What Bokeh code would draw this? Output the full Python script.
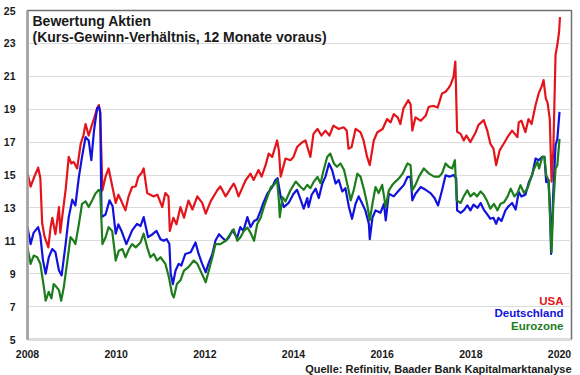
from bokeh.plotting import figure
from bokeh.models import Label, FixedTicker, Range1d, Title
from bokeh.embed import file_html
from bokeh.resources import INLINE

# ---------------- data (decimal year, forward P/E) ----------------
usa_t = [2008.00, 2008.07, 2008.14, 2008.24, 2008.29, 2008.33, 2008.38, 2008.47, 2008.52, 2008.56,
         2008.63, 2008.71, 2008.74, 2008.79, 2008.86, 2008.93, 2008.99, 2009.04, 2009.12, 2009.20,
         2009.26, 2009.31, 2009.38, 2009.46, 2009.51, 2009.57, 2009.61, 2009.64, 2009.69, 2009.76,
         2009.83, 2009.89, 2009.99, 2010.05, 2010.12, 2010.21, 2010.28, 2010.36, 2010.44, 2010.50,
         2010.57, 2010.62, 2010.70, 2010.77, 2010.84, 2010.93, 2011.04, 2011.11, 2011.18, 2011.21,
         2011.29, 2011.36, 2011.45, 2011.53, 2011.63, 2011.72, 2011.83, 2011.94, 2012.02, 2012.13,
         2012.28, 2012.35, 2012.47, 2012.56, 2012.65, 2012.69, 2012.76, 2012.92, 2013.03, 2013.10,
         2013.21, 2013.28, 2013.37, 2013.44, 2013.52, 2013.63, 2013.67, 2013.71, 2013.82, 2013.93,
         2014.00, 2014.08, 2014.20, 2014.27, 2014.38, 2014.45, 2014.54, 2014.63, 2014.72, 2014.81,
         2014.90, 2015.02, 2015.13, 2015.20, 2015.24, 2015.31, 2015.40, 2015.51, 2015.58, 2015.66,
         2015.72, 2015.81, 2015.89, 2016.01, 2016.11, 2016.19, 2016.26, 2016.35, 2016.41, 2016.48,
         2016.59, 2016.64, 2016.68, 2016.75, 2016.87, 2016.98, 2017.05, 2017.16, 2017.25, 2017.35,
         2017.43, 2017.50, 2017.54, 2017.61, 2017.65, 2017.69, 2017.77, 2017.84, 2017.90, 2017.99,
         2018.11, 2018.17, 2018.29, 2018.37, 2018.44, 2018.51, 2018.57, 2018.65, 2018.74, 2018.85,
         2018.93, 2019.05, 2019.08, 2019.14, 2019.23, 2019.30, 2019.37, 2019.46, 2019.53, 2019.60,
         2019.64, 2019.69, 2019.73, 2019.78, 2019.82, 2019.86, 2019.91, 2019.95, 2019.99, 2020.01]
usa_pe = [15.1, 14.3, 14.8, 15.45, 14.8, 12.1, 11.3, 10.6, 11.8, 12.4,
          11.4, 13.05, 11.5, 12.6, 14.1, 16.1, 15.7, 15.8, 15.4, 16.9,
          17.4, 18.1, 17.4, 18.1, 18.5, 19.05, 19.25, 18.8, 14.07, 14.9,
          15.4, 14.6, 13.3, 13.8, 13.4, 12.85, 13.7, 14.27, 14.3, 14.9,
          15.1, 15.4, 13.9, 13.8, 13.7, 13.8, 13.05, 13.9, 13.7, 11.6,
          12.4, 12.0, 13.05, 12.4, 13.45, 12.9, 13.7, 13.3, 12.65, 13.4,
          14.07, 14.3, 13.7, 14.1, 14.48, 14.27, 13.7, 14.68, 15.08, 14.7,
          15.3, 14.9, 15.6, 16.3, 16.1, 17.1, 16.5, 14.9, 16.0, 15.9,
          16.1, 16.7, 17.0, 17.1, 16.1, 17.5, 17.8, 17.4, 17.7, 17.4,
          18.0, 17.8, 17.9, 17.7, 16.6, 16.7, 17.8, 17.6, 17.1, 16.1,
          15.6, 17.1, 17.6, 17.8, 18.4, 18.2, 18.7, 18.5, 18.1, 19.05,
          19.55, 19.3, 17.7, 18.5, 18.3, 18.6, 19.15, 19.2, 19.1, 19.96,
          20.06, 20.3, 20.47, 20.98, 21.9, 17.63, 17.5, 17.1, 17.4, 17.0,
          17.6, 18.03, 18.34, 17.7, 16.9, 16.6, 15.6, 16.5, 16.9, 17.4,
          17.7, 17.3, 18.2, 18.3, 17.6, 18.4, 18.1, 19.25, 19.96, 20.4,
          20.77, 19.66, 19.4, 18.4, 14.6, 16.5, 22.3, 22.9, 23.7, 24.6]

de_t = [2008.00, 2008.07, 2008.14, 2008.24, 2008.29, 2008.35, 2008.41, 2008.48, 2008.56, 2008.63,
        2008.71, 2008.77, 2008.86, 2008.93, 2009.01, 2009.08, 2009.16, 2009.23, 2009.31, 2009.38,
        2009.44, 2009.50, 2009.57, 2009.61, 2009.64, 2009.67, 2009.76, 2009.85, 2009.92, 2009.99,
        2010.05, 2010.12, 2010.23, 2010.36, 2010.47, 2010.55, 2010.62, 2010.72, 2010.82, 2010.91,
        2011.00, 2011.07, 2011.14, 2011.20, 2011.23, 2011.28, 2011.34, 2011.41, 2011.47, 2011.56,
        2011.68, 2011.79, 2011.86, 2011.94, 2012.02, 2012.08, 2012.17, 2012.24, 2012.32, 2012.39,
        2012.47, 2012.54, 2012.62, 2012.73, 2012.80, 2012.87, 2012.96, 2013.03, 2013.11, 2013.18,
        2013.26, 2013.32, 2013.41, 2013.52, 2013.59, 2013.64, 2013.71, 2013.78, 2013.89, 2014.00,
        2014.08, 2014.16, 2014.23, 2014.31, 2014.34, 2014.41, 2014.50, 2014.57, 2014.65, 2014.72,
        2014.80, 2014.87, 2014.95, 2015.02, 2015.10, 2015.17, 2015.25, 2015.32, 2015.40, 2015.47,
        2015.55, 2015.62, 2015.70, 2015.72, 2015.78, 2015.85, 2015.96, 2016.04, 2016.08, 2016.15,
        2016.26, 2016.38, 2016.49, 2016.57, 2016.64, 2016.68, 2016.75, 2016.87, 2016.98, 2017.09,
        2017.18, 2017.26, 2017.35, 2017.43, 2017.52, 2017.61, 2017.67, 2017.69, 2017.77, 2017.84,
        2017.92, 2017.99, 2018.06, 2018.15, 2018.22, 2018.29, 2018.37, 2018.44, 2018.51, 2018.57,
        2018.62, 2018.69, 2018.78, 2018.85, 2018.93, 2019.01, 2019.08, 2019.14, 2019.23, 2019.31,
        2019.38, 2019.46, 2019.53, 2019.61, 2019.66, 2019.70, 2019.75, 2019.78, 2019.81, 2019.86,
        2019.91, 2019.95, 2020.00]
de_pe = [11.83, 10.8, 11.5, 11.83, 11.3, 9.8, 9.0, 10.0, 10.5, 10.3,
         9.19, 8.9, 10.8, 12.44, 13.5, 13.15, 14.9, 16.1, 17.3, 17.1,
         15.9, 17.7, 19.05, 19.15, 18.8, 12.44, 12.6, 13.46, 13.1, 11.43,
         12.0, 11.6, 10.8, 11.63, 12.03, 11.9, 12.44, 11.22, 11.4, 11.6,
         11.1, 11.0, 11.1, 10.8, 9.0, 8.37, 9.2, 9.6, 9.5, 10.2,
         10.3, 10.9, 10.2, 9.6, 9.09, 9.6, 10.2, 11.02, 11.4, 11.2,
         11.0, 11.2, 11.63, 11.2, 11.83, 11.6, 12.44, 11.83, 12.2, 12.3,
         12.85, 13.3, 13.86, 14.27, 14.68, 14.8, 13.7, 13.05, 13.3, 13.86,
         14.1, 13.5, 12.95, 13.6, 13.05, 13.8, 14.17, 13.6, 14.48, 14.9,
         15.7, 15.3, 14.48, 14.7, 14.0, 14.2, 13.05, 12.34, 13.25, 13.7,
         13.25, 12.85, 12.03, 11.1, 12.4, 12.85, 12.7, 13.25, 12.24, 13.86,
         13.7, 14.07, 14.4, 14.88, 14.9, 13.46, 13.86, 14.27, 14.1, 13.9,
         13.6, 13.15, 14.07, 14.98, 14.9, 15.0, 14.8, 12.85, 12.7, 12.85,
         13.15, 12.85, 13.2, 13.0, 13.3, 12.9, 12.6, 12.34, 12.4, 12.03,
         12.4, 12.2, 12.85, 13.1, 13.3, 12.9, 13.97, 13.7, 13.8, 14.57,
         14.98, 16.0, 15.9, 16.1, 16.1, 14.57, 14.7, 13.4, 10.2, 14.0,
         16.8, 17.2, 18.84]

ez_t = [2008.00, 2008.07, 2008.14, 2008.22, 2008.29, 2008.37, 2008.41, 2008.48, 2008.54, 2008.59,
        2008.65, 2008.71, 2008.76, 2008.82, 2008.90, 2008.97, 2009.04, 2009.08, 2009.16, 2009.23,
        2009.31, 2009.38, 2009.46, 2009.53, 2009.61, 2009.64, 2009.69, 2009.76, 2009.83, 2009.91,
        2009.99, 2010.06, 2010.14, 2010.21, 2010.29, 2010.36, 2010.44, 2010.55, 2010.62, 2010.70,
        2010.77, 2010.85, 2010.92, 2011.00, 2011.11, 2011.19, 2011.26, 2011.30, 2011.37, 2011.45,
        2011.53, 2011.63, 2011.75, 2011.83, 2011.90, 2012.02, 2012.09, 2012.17, 2012.24, 2012.35,
        2012.47, 2012.58, 2012.65, 2012.73, 2012.80, 2012.88, 2012.96, 2013.03, 2013.11, 2013.18,
        2013.26, 2013.33, 2013.41, 2013.49, 2013.56, 2013.63, 2013.67, 2013.69, 2013.75, 2013.82,
        2013.93, 2014.05, 2014.16, 2014.23, 2014.31, 2014.38, 2014.46, 2014.54, 2014.61, 2014.68,
        2014.76, 2014.83, 2014.91, 2014.98, 2015.06, 2015.14, 2015.21, 2015.29, 2015.36, 2015.44,
        2015.51, 2015.59, 2015.66, 2015.72, 2015.78, 2015.85, 2015.92, 2016.00, 2016.08, 2016.15,
        2016.23, 2016.30, 2016.38, 2016.46, 2016.57, 2016.64, 2016.68, 2016.75, 2016.83, 2016.94,
        2017.05, 2017.17, 2017.28, 2017.35, 2017.43, 2017.50, 2017.58, 2017.64, 2017.68, 2017.77,
        2017.84, 2017.92, 2017.99, 2018.07, 2018.14, 2018.22, 2018.29, 2018.37, 2018.44, 2018.52,
        2018.60, 2018.67, 2018.75, 2018.83, 2018.90, 2018.98, 2019.05, 2019.12, 2019.20, 2019.28,
        2019.35, 2019.43, 2019.50, 2019.54, 2019.61, 2019.66, 2019.70, 2019.75, 2019.80, 2019.82,
        2019.86, 2019.91, 2019.95, 2020.00]
ez_pe = [10.6, 9.6, 10.1, 10.0, 9.6, 8.17, 7.36, 7.9, 7.5, 8.37,
         8.2, 8.0, 7.36, 8.2, 9.8, 11.22, 11.0, 10.8, 12.03, 13.25,
         13.4, 13.05, 13.46, 13.86, 14.1, 14.0, 10.8, 11.2, 11.83, 11.6,
         9.8, 10.4, 10.5, 10.0, 10.5, 10.8, 10.6, 10.9, 11.43, 10.6,
         10.0, 10.2, 9.8, 10.0, 9.6, 8.78, 7.77, 7.56, 8.37, 8.6,
         9.19, 9.4, 9.8, 9.6, 9.2, 8.48, 9.19, 10.0, 10.8, 10.8,
         11.0, 11.43, 11.7, 11.0, 11.2, 11.6, 11.8, 11.5, 11.0, 12.0,
         12.4, 13.05, 13.66, 14.27, 14.4, 14.68, 13.46, 12.44, 13.66, 13.4,
         14.07, 14.6, 14.27, 14.1, 14.4, 14.2, 14.6, 14.88, 14.5, 15.3,
         16.1, 16.3, 15.7, 15.5, 15.7, 15.3, 14.48, 13.46, 14.1, 15.08,
         14.9, 14.1, 13.25, 12.24, 13.25, 14.27, 13.9, 14.4, 13.05, 14.07,
         14.4, 14.6, 14.8, 15.08, 15.7, 15.6, 14.07, 14.4, 14.9, 15.4,
         15.1, 14.9, 14.9, 15.1, 15.7, 15.5, 15.4, 15.9, 13.46, 13.3,
         13.7, 14.07, 13.7, 13.9, 13.7, 14.0, 13.8, 13.4, 12.95, 13.25,
         12.85, 13.25, 13.35, 13.7, 14.17, 13.7, 13.9, 14.38, 13.9, 14.2,
         14.78, 15.4, 15.8, 15.4, 16.1, 16.1, 14.98, 14.7, 11.5, 10.3,
         13.2, 15.4, 15.6, 17.2]

y_ticks = [5, 7, 9, 11, 13, 15, 17, 19, 21, 23, 25]
x_ticks = [2008, 2010, 2012, 2014, 2016, 2018, 2020]

title_lines = ["Bewertung Aktien", "(Kurs-Gewinn-Verhältnis, 12 Monate voraus)"]
series_names = ["USA", "Deutschland", "Eurozone"]
series_colors = ["#e4141b", "#1212dc", "#1d7d1d"]
source_text = "Quelle: Refinitiv, Baader Bank Kapitalmarktanalyse"

FONT = "Liberation Sans"

# ---------------- figure ----------------
p = figure(width=580, height=375, output_backend="svg", toolbar_location=None,
           x_range=Range1d(2008, 2020.27), y_range=Range1d(5, 25),
           min_border_left=27, min_border_right=9, min_border_top=10, min_border_bottom=36,
           background_fill_color="white", border_fill_color="white")

p.outline_line_color = "#6f6f6f"
p.outline_line_width = 1.5

p.xgrid.visible = False
p.ygrid.ticker = FixedTicker(ticks=y_ticks)
p.ygrid.grid_line_color = "#dcdcdc"
p.ygrid.grid_line_width = 1

for ax in (p.xaxis[0], p.yaxis[0]):
    ax.major_label_text_font = FONT
    ax.major_label_text_font_style = "bold"
    ax.major_label_text_font_size = "10.5px"
    ax.major_label_text_color = "#1a1a1a"
    ax.major_tick_line_color = None
    ax.minor_tick_line_color = None

p.yaxis.ticker = FixedTicker(ticks=y_ticks)
p.yaxis.major_label_standoff = 6
p.yaxis.axis_line_color = "#a0a0a0"
p.yaxis.axis_line_width = 2.5

p.xaxis.ticker = FixedTicker(ticks=x_ticks)
p.xaxis.major_label_standoff = 4
p.xaxis.axis_line_color = "#e0e0e0"
p.xaxis.axis_line_width = 1

# lines (USA, Deutschland, Eurozone)
for t, v, c in ((usa_t, usa_pe, series_colors[0]),
                (de_t, de_pe, series_colors[1]),
                (ez_t, ez_pe, series_colors[2])):
    p.line(t, v, line_color=c, line_width=2.2, line_join="round")

# title inside the plot
p.add_layout(Label(x=5, y=319, x_units="screen", y_units="screen", text=title_lines[0],
                   text_font=FONT, text_font_style="bold", text_font_size="14px",
                   text_baseline="middle", text_color="#1a1a1a"))
p.add_layout(Label(x=5, y=303, x_units="screen", y_units="screen", text=title_lines[1],
                   text_font=FONT, text_font_style="bold", text_font_size="14px",
                   text_baseline="middle", text_color="#1a1a1a"))

# legend texts
for name, c, yy in zip(series_names, series_colors, [39, 27, 14]):
    p.add_layout(Label(x=536, y=yy, x_units="screen", y_units="screen", text=name,
                       text_font=FONT, text_font_style="bold", text_font_size="11.5px",
                       text_align="right", text_baseline="middle", text_color=c))

# source line below the x axis
p.add_layout(Title(text=source_text, align="right", text_font=FONT, text_font_style="bold",
                   text_font_size="11px", text_color="#1a1a1a", standoff=0, offset=0),
             "below")

open("out.html", "w").write(file_html(p, INLINE))
